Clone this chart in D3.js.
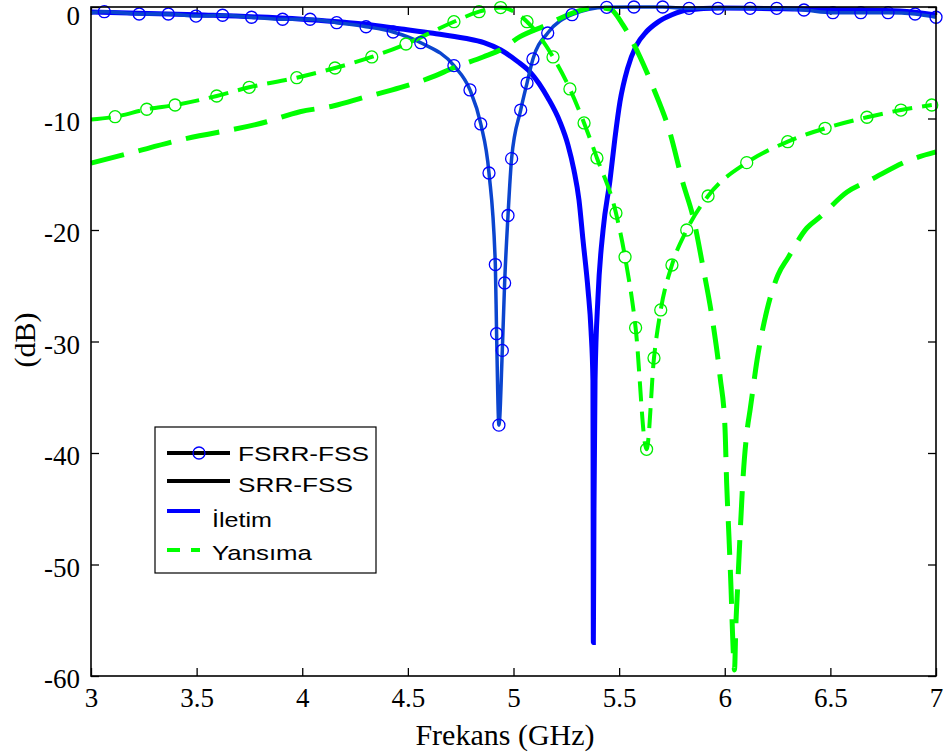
<!DOCTYPE html>
<html>
<head>
<meta charset="utf-8">
<script src="https://cdn.jsdelivr.net/npm/d3@7"></script>
<style>
body { margin: 0; background: #fff; }
</style>
</head>
<body>
<script>
// eksen degerleri
const xTicks = [3, 3.5, 4, 4.5, 5, 5.5, 6, 6.5, 7]
const yTicks = [0, -10, -20, -30, -40, -50, -60]

// FSRR-FSS iletim (isaretli)
const fsrrIletimF = [3.0, 3.063, 3.228, 3.366, 3.497, 3.623, 3.760, 3.907, 4.037, 4.163, 4.302, 4.430, 4.561, 4.718, 4.794, 4.845, 4.884, 4.914, 4.920, 4.931, 4.947, 4.958, 4.974, 4.991, 5.034, 5.064, 5.092, 5.162, 5.277, 5.441, 5.570, 5.706, 5.831, 5.968, 6.120, 6.246, 6.375, 6.512, 6.644, 6.773, 6.901, 7.0]
const fsrrIletimDb = [-0.51, -0.42, -0.63, -0.63, -0.81, -0.74, -0.92, -1.1, -1.1, -1.41, -1.77, -2.24, -3.2, -5.26, -7.44, -10.49, -14.89, -23.1, -29.3, -37.5, -30.8, -24.75, -18.7, -13.6, -9.24, -6.82, -4.66, -2.33, -0.69, -0.03, 0, 0, -0.12, -0.12, -0.12, -0.12, -0.27, -0.51, -0.51, -0.51, -0.63, -0.92]

// SRR-FSS iletim
const srrIletimF = [3.0, 3.5, 4.0, 4.3, 4.46, 4.62, 4.77, 4.86, 4.94, 5.02, 5.078, 5.163, 5.220, 5.258, 5.286, 5.310, 5.329, 5.353, 5.367, 5.376, 5.377, 5.378, 5.381, 5.386, 5.400, 5.424, 5.457, 5.480, 5.504, 5.54, 5.58, 5.63, 5.68, 5.75, 5.821, 5.977, 6.356, 6.83, 7.0]
const srrIletimDb = [-0.45, -0.7, -1.1, -1.55, -1.95, -2.35, -2.8, -3.2, -3.86, -4.9, -5.83, -8.16, -10.31, -12.38, -14.62, -17.31, -20.9, -25.4, -29.0, -33.5, -45, -57, -45, -33.5, -26.0, -20.0, -15.5, -11.8, -8.5, -5.5, -3.5, -2.2, -1.4, -0.7, -0.27, -0.09, -0.18, -0.36, -0.72]

// FSRR-FSS yansima (isaretli)
const fsrrYansimaF = [3.0, 3.114, 3.264, 3.398, 3.595, 3.749, 3.974, 4.155, 4.329, 4.491, 4.718, 4.837, 4.939, 5.064, 5.187, 5.267, 5.334, 5.395, 5.485, 5.528, 5.578, 5.630, 5.665, 5.697, 5.750, 5.820, 5.921, 6.104, 6.298, 6.475, 6.673, 6.834, 6.980]
const fsrrYansimaDb = [-10.1, -9.84, -9.17, -8.79, -7.98, -7.20, -6.34, -5.47, -4.48, -3.32, -1.32, -0.42, -0.05, -1.32, -4.48, -7.35, -10.40, -13.54, -18.48, -22.42, -28.76, -39.67, -31.48, -27.17, -23.14, -20.0, -16.95, -13.96, -12.08, -10.88, -9.89, -9.24, -8.79]

// SRR-FSS yansima
const srrYansimaF = [3.0, 3.169, 3.421, 3.832, 3.989, 4.146, 4.305, 4.463, 4.619, 4.714, 4.856, 4.936, 5.031, 5.157, 5.267, 5.386, 5.457, 5.518, 5.599, 5.660, 5.741, 5.802, 5.850, 5.897, 5.944, 5.978, 6.001, 6.009, 6.020, 6.030, 6.038, 6.046, 6.053, 6.061, 6.072, 6.086, 6.107, 6.120, 6.153, 6.200, 6.252, 6.299, 6.389, 6.451, 6.579, 6.688, 6.877, 7.0]
const srrYansimaDb = [-14.0, -13.18, -11.93, -10.29, -9.39, -8.88, -8.04, -7.24, -6.25, -5.47, -4.48, -3.86, -2.66, -1.61, -0.63, -0.05, -0.18, -1.61, -4.48, -7.17, -11.30, -15.78, -18.83, -23.32, -28.34, -33.18, -37.67, -42.69, -47.53, -52.29, -56.77, -59.46, -55.25, -52.02, -47.53, -42.42, -37.8, -36.14, -31.66, -27.17, -24.04, -22.51, -19.82, -18.83, -16.59, -15.52, -13.72, -13.0]

const legendLabels = ["FSRR-FSS", "SRR-FSS", "İletim", "Yansıma"]

var svg = d3.select("body").append("svg")
  .attr("width", 946)
  .attr("height", 753)

const mLeft = 91, mRight = 936, mTop = 7, mBottom = 676

var x = d3.scaleLinear().domain([3, 7]).range([mLeft, mRight])
var y = d3.scaleLinear().domain([-60, 0]).range([mBottom, mTop])

function pts(f, db) { return f.map((v, i) => [v, db[i]]) }

var line = d3.line()
  .x(d => x(d[0]))
  .y(d => y(d[1]))
  .curve(d3.curveMonotoneX)

// eksenler
var serif = "'Liberation Serif', 'Times New Roman', serif"

var gx = svg.append("g").attr("transform", `translate(0,${mBottom})`)
  .call(d3.axisBottom(x).tickValues(xTicks).tickSize(-8).tickSizeOuter(0).tickPadding(12).tickFormat(d => String(d)))
var gy = svg.append("g").attr("transform", `translate(${mLeft},0)`)
  .call(d3.axisLeft(y).tickValues(yTicks).tickSize(-8).tickSizeOuter(0).tickPadding(11).tickFormat(d => String(d)))
svg.append("g").attr("transform", `translate(0,${mTop})`)
  .call(d3.axisTop(x).tickValues(xTicks).tickSize(-8).tickSizeOuter(0).tickFormat(""))
svg.append("g").attr("transform", `translate(${mRight},0)`)
  .call(d3.axisRight(y).tickValues(yTicks).tickSize(-8).tickSizeOuter(0).tickFormat(""))

svg.selectAll(".domain").remove()
svg.selectAll(".tick line").attr("stroke", "#000").attr("stroke-width", 1.3)
svg.selectAll(".tick text").attr("font-family", serif).attr("font-size", 27).attr("fill", "#000")
gy.selectAll(".tick text").attr("y", d => d == 0 ? 9 : 3)

// cizgiler
svg.append("path").datum(pts(srrIletimF, srrIletimDb))
  .attr("d", line).attr("fill", "none")
  .attr("stroke", "#0000ff").attr("stroke-width", 5)

svg.append("path").datum(pts(fsrrIletimF, fsrrIletimDb))
  .attr("d", line).attr("fill", "none")
  .attr("stroke", "#0b45cf").attr("stroke-width", 3.5)

svg.append("path").datum(pts(srrYansimaF, srrYansimaDb))
  .attr("d", line).attr("fill", "none")
  .attr("stroke", "#00ff00").attr("stroke-width", 5)
  .attr("stroke-dasharray", "34,15")

svg.append("path").datum(pts(fsrrYansimaF, fsrrYansimaDb))
  .attr("d", line).attr("fill", "none")
  .attr("stroke", "#00ff00").attr("stroke-width", 4)
  .attr("stroke-dasharray", "20,10")

// isaretler (ilk nokta haric)
svg.append("g").selectAll("circle")
  .data(pts(fsrrIletimF, fsrrIletimDb).slice(1))
  .join("circle")
  .attr("cx", d => x(d[0])).attr("cy", d => y(d[1])).attr("r", 6)
  .attr("fill", "none").attr("stroke", "#0000ff").attr("stroke-width", 1.3)

svg.append("g").selectAll("circle")
  .data(pts(fsrrYansimaF, fsrrYansimaDb).slice(1))
  .join("circle")
  .attr("cx", d => x(d[0])).attr("cy", d => y(d[1])).attr("r", 6)
  .attr("fill", "none").attr("stroke", "#00ee00").attr("stroke-width", 1.3)

// cerceve
svg.append("rect")
  .attr("x", mLeft).attr("y", mTop)
  .attr("width", mRight - mLeft).attr("height", mBottom - mTop)
  .attr("fill", "none").attr("stroke", "#000").attr("stroke-width", 1.6)

// eksen basliklari
svg.append("text")
  .attr("x", 505).attr("y", 745)
  .attr("text-anchor", "middle")
  .attr("font-family", serif).attr("font-size", 30)
  .text("Frekans (GHz)")

svg.append("text")
  .attr("transform", "translate(35,340) rotate(-90)")
  .attr("text-anchor", "middle")
  .attr("font-family", serif).attr("font-size", 30)
  .text("(dB)")

// lejant
var lg = svg.append("g")
lg.append("rect")
  .attr("x", 155).attr("y", 427).attr("width", 221).attr("height", 146)
  .attr("fill", "#fff").attr("stroke", "#000").attr("stroke-width", 1.2)

var rowY = [453, 481, 511, 550]
var textY = [461, 492, 527, 560]
var textX = [238, 238, 212, 212]
var textLen = [131, 115, 60, 100]
var lineEnd = [230, 230, 200, 200]
var lineColor = ["#000", "#000", "#0000ff", "#00ff00"]

lg.selectAll("line.leg")
  .data(legendLabels)
  .join("line")
  .attr("class", "leg")
  .attr("x1", 167).attr("x2", (d, i) => lineEnd[i])
  .attr("y1", (d, i) => rowY[i]).attr("y2", (d, i) => rowY[i])
  .attr("stroke", (d, i) => lineColor[i]).attr("stroke-width", 4)
  .attr("stroke-dasharray", (d, i) => i == 3 ? "13,11" : null)

lg.append("circle")
  .attr("cx", 199).attr("cy", rowY[0]).attr("r", 6)
  .attr("fill", "none").attr("stroke", "#0000ff").attr("stroke-width", 1.3)

lg.selectAll("text")
  .data(legendLabels)
  .join("text")
  .attr("x", (d, i) => textX[i]).attr("y", (d, i) => textY[i])
  .attr("font-family", "'Liberation Sans', Arial, sans-serif")
  .attr("font-size", 21)
  .attr("textLength", (d, i) => textLen[i])
  .attr("lengthAdjust", "spacingAndGlyphs")
  .text(d => d)
</script>
</body>
</html>
